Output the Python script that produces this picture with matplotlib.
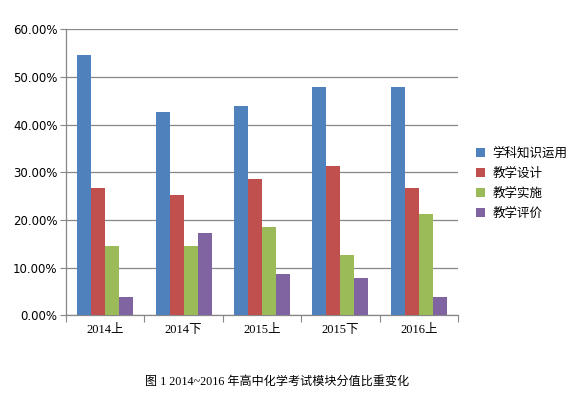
import matplotlib
matplotlib.use("Agg")
import matplotlib.pyplot as plt
import numpy as np
from matplotlib.patches import Patch
from matplotlib.ticker import MultipleLocator, FuncFormatter

categories = ["2014上", "2014下", "2015上", "2015下", "2016上"]
series_names = ["学科知识运用", "教学设计", "教学实施", "教学评价"]
knowledge = [54.7, 42.7, 43.9, 47.9, 47.9]
design = [26.7, 25.3, 28.6, 31.4, 26.7]
implement = [14.5, 14.5, 18.5, 12.7, 21.3]
evaluate = [3.9, 17.3, 8.7, 7.9, 3.9]
colors = ["#4F81BD", "#C0504D", "#9BBB59", "#8064A2"]
caption = "图 1 2014~2016 年高中化学考试模块分值比重变化"

plt.rcParams['font.family'] = ['DejaVu Sans', 'Noto Sans CJK SC']

fig = plt.figure(figsize=(5.86, 3.99), dpi=100)
ax = fig.add_axes([0.1126, 0.2093, 0.669, 0.7173])

data = [knowledge, design, implement, evaluate]
x = np.arange(len(categories))
bw = 0.715 / 4
for i, (vals, c) in enumerate(zip(data, colors)):
    ax.bar(x + (i - 1.5) * bw, vals, width=bw, color=c, zorder=3, label=series_names[i])

ax.set_xlim(-0.5, len(categories) - 0.5)
ax.set_ylim(0, 60)
ax.yaxis.set_major_locator(MultipleLocator(10))
ax.yaxis.set_major_formatter(FuncFormatter(lambda v, p: f"{v:.2f}%"))
ax.grid(axis='y', color='#878787', linewidth=0.9, zorder=0)
for s in ['top', 'right']:
    ax.spines[s].set_visible(False)
for s in ['left', 'bottom']:
    ax.spines[s].set_color('#878787')
    ax.spines[s].set_linewidth(0.9)
ax.tick_params(axis='y', length=4, color='#878787', labelsize=8.5, pad=2, direction='out')
ax.set_xticks(np.arange(-0.5, len(categories), 1.0))
ax.set_xticklabels([])
ax.tick_params(axis='x', which='major', length=5, color='#878787')
ax.set_xticks(x, minor=True)
ax.set_xticklabels(categories, minor=True, fontsize=9,
                   family=['Liberation Serif', 'Noto Sans CJK SC'])
ax.tick_params(axis='x', which='minor', length=0, pad=6)

handles = [Patch(facecolor=c, label=n) for c, n in zip(colors, series_names)]
fig.legend(handles=handles, loc='upper left', bbox_to_anchor=(0.793, 0.661),
           frameon=False, handlelength=0.7, handleheight=0.7,
           handletextpad=0.6, labelspacing=0.56,
           prop={'family': ['Noto Sans CJK SC'], 'size': 9})

fig.text(0.4735, 0.043, caption, ha='center', va='center', fontsize=8.7,
         family=['Liberation Serif', 'Noto Sans CJK SC'])

fig.savefig("out.png", dpi=100)
